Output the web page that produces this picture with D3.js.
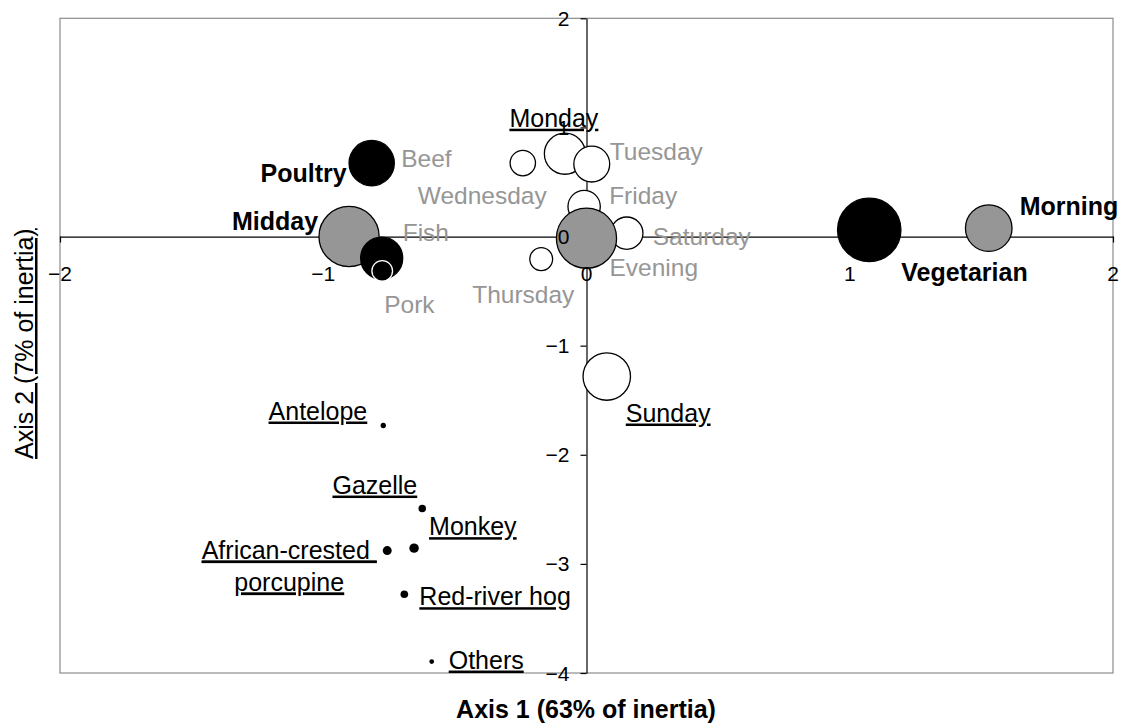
<!DOCTYPE html>
<html>
<head>
<meta charset="utf-8">
<script src="https://cdn.jsdelivr.net/npm/d3@7"></script>
<style>
  html, body { margin: 0; padding: 0; background: #fff; }
  svg { display: block; font-family: "Liberation Sans", Arial, sans-serif; }
</style>
</head>
<body>
<svg id="chart" width="1127" height="725"></svg>
<script>
// Correspondence analysis coordinates (axis 1, axis 2) and bubble weights.
const dayNames   = ["Monday", "Tuesday", "Wednesday", "Thursday", "Friday", "Saturday", "Sunday"];
const dayAxis1   = [-0.082, 0.020, -0.242, -0.172, -0.009, 0.153, 0.077];
const dayAxis2   = [0.759, 0.664, 0.673, -0.207, 0.275, 0.031, -1.283];
const dayWeight  = [42, 32, 16, 13, 26, 26, 56];

const mealNames  = ["Morning", "Midday", "Evening"];
const mealAxis1  = [1.528, -0.902, 0.000];
const mealAxis2  = [0.077, 0.000, -0.015];
const mealWeight = [54, 90, 90];

const meatNames  = ["Beef", "Poultry", "Fish", "Pork", "Vegetarian"];
const meatAxis1  = [-0.810, -0.816, -0.778, -0.776, 1.074];
const meatAxis2  = [0.670, 0.673, -0.198, -0.315, 0.061];
const meatWeight = [40, 51, 44, 10.6, 100];

const speciesNames  = ["Antelope", "Gazelle", "Monkey", "African-crested porcupine", "Red-river hog", "Others"];
const speciesAxis1  = [-0.772, -0.624, -0.655, -0.757, -0.692, -0.588];
const speciesAxis2  = [-1.732, -2.493, -2.856, -2.878, -3.278, -3.895];
const speciesWeight = [0.7, 1.4, 2.2, 2.0, 1.45, 0.55];

const xTicks = [-2, -1, 0, 1, 2];
const yTicks = [2, 1, 0, -1, -2, -3, -4];
const xTitle = "Axis 1 (63% of inertia)";
const yTitle = "Axis 2 (7% of inertia)";

// Build one record list, in drawing order (later groups sit on top).
function rows(group, names, a1, a2, w) {
  return names.map((n, i) => ({ group, name: n, x: a1[i], y: a2[i], w: w[i] }));
}
const points = [].concat(
  rows("day", dayNames, dayAxis1, dayAxis2, dayWeight),
  rows("meal", mealNames, mealAxis1, mealAxis2, mealWeight),
  rows("meat", meatNames, meatAxis1, meatAxis2, meatWeight),
  rows("species", speciesNames, speciesAxis1, speciesAxis2, speciesWeight)
);

// Presentation
const fills   = { day: "#ffffff", meal: "#969696", meat: "#000000", species: "#000000" };
const strokes = { day: "#000000", meal: "#000000", meat: "#000000", species: "#000000" };
const strokeOverride = { Pork: "#ffffff" };

// Label placement relative to each bubble centre (px) and text style.
const labelLayout = {
  Monday:     { dx: -11, dy: -27, anchor: "middle", style: "ul" },
  Tuesday:    { dx: 18, dy: -4, anchor: "start", style: "muted" },
  Wednesday:  { dx: -105, dy: 41, anchor: "start", style: "muted" },
  Thursday:   { dx: -69, dy: 44, anchor: "start", style: "muted" },
  Friday:     { dx: 25, dy: -3, anchor: "start", style: "muted" },
  Saturday:   { dx: 26, dy: 12, anchor: "start", style: "muted" },
  Sunday:     { dx: 19, dy: 45, anchor: "start", style: "ul" },
  Morning:    { dx: 31, dy: -13, anchor: "start", style: "strong" },
  Midday:     { dx: -31, dy: -7, anchor: "end", style: "strong" },
  Evening:    { dx: 23, dy: 38, anchor: "start", style: "muted" },
  Beef:       { dx: 28, dy: 4, anchor: "start", style: "muted" },
  Poultry:    { dx: -25, dy: 19, anchor: "end", style: "strong" },
  Fish:       { dx: 21, dy: -17, anchor: "start", style: "muted" },
  Pork:       { dx: 2, dy: 42, anchor: "start", style: "muted" },
  Vegetarian: { dx: 32, dy: 51, anchor: "start", style: "strong" },
  "Antelope":                  { dx: -16, dy: -6, anchor: "end", style: "ul" },
  "Gazelle":                   { dx: -5, dy: -15, anchor: "end", style: "ul" },
  "Monkey":                    { dx: 15, dy: -13, anchor: "start", style: "ul" },
  "African-crested porcupine": { dx: -98, dy: 8, anchor: "middle", style: "ul",
                                 lines: ["African-crested ", "porcupine"], lead: 32 },
  "Red-river hog":             { dx: 15, dy: 11, anchor: "start", style: "ul" },
  "Others":                    { dx: 17, dy: 7, anchor: "start", style: "ul" }
};
const textStyles = {
  strong: { fill: "#000", weight: "bold", size: 25, deco: "none" },
  muted:  { fill: "#969696", weight: "normal", size: 24.5, deco: "none" },
  ul:     { fill: "#000", weight: "normal", size: 25, deco: "underline" }
};

const svg = d3.select("#chart");
const plotLeft = 60, plotRight = 1113, plotTop = 18.3, plotBottom = 673;

const x = d3.scaleLinear().domain([-2, 2]).range([plotLeft, plotRight]);
const y = d3.scaleLinear().domain([-4, 2]).range([plotBottom, plotTop]);
const r = d3.scaleSqrt().domain([0, 100]).range([0, 31.7]);

// Plot frame
svg.append("rect")
  .attr("x", plotLeft).attr("y", plotTop)
  .attr("width", plotRight - plotLeft).attr("height", plotBottom - plotTop)
  .attr("fill", "none").attr("stroke", "#8c8c8c").attr("stroke-width", 1.2);

// Axis lines through the origin
const xAxis = d3.axisBottom(x).tickValues(xTicks).tickSize(6).tickSizeOuter(0);
const yAxis = d3.axisLeft(y).tickValues(yTicks).tickSize(6).tickSizeOuter(0);

const gx = svg.append("g").attr("transform", `translate(0,${y(0)})`).call(xAxis);
const gy = svg.append("g").attr("transform", `translate(${x(0)},0)`).call(yAxis);
[gx, gy].forEach(g => {
  g.select(".domain").attr("stroke", "#000").attr("stroke-width", 1.2);
  g.selectAll(".tick line").attr("stroke", "#000").attr("stroke-width", 1.2);
  g.selectAll(".tick text").remove();
});

// Bubbles
svg.append("g").selectAll("circle")
  .data(points)
  .join("circle")
  .attr("cx", d => x(d.x))
  .attr("cy", d => y(d.y))
  .attr("r", d => r(d.w))
  .attr("fill", d => fills[d.group])
  .attr("stroke", d => strokeOverride[d.name] || strokes[d.group])
  .attr("stroke-width", d => d.group === "species" ? 0 : 1.3);

// Tick labels, drawn above the bubbles
const tickFont = 21;
svg.append("g").selectAll("text")
  .data(xTicks)
  .join("text")
  .attr("x", d => x(d))
  .attr("y", y(0) + 44)
  .attr("text-anchor", "middle")
  .attr("font-size", tickFont)
  .attr("fill", "#000")
  .text(d3.format("d"));
svg.append("g").selectAll("text")
  .data(yTicks)
  .join("text")
  .attr("x", x(0) - 17)
  .attr("y", d => y(d) + 7.5)
  .attr("text-anchor", "end")
  .attr("font-size", tickFont)
  .attr("fill", "#000")
  .text(d3.format("d"));

// Point labels
svg.append("g").selectAll("text")
  .data(points.filter(d => labelLayout[d.name]))
  .join("text")
  .each(function (d) {
    const L = labelLayout[d.name];
    const s = textStyles[L.style];
    const t = d3.select(this)
      .attr("x", x(d.x) + L.dx)
      .attr("y", y(d.y) + L.dy)
      .attr("text-anchor", L.anchor)
      .attr("font-size", s.size)
      .attr("font-weight", s.weight)
      .attr("fill", s.fill)
      .style("text-decoration", s.deco)
      .style("white-space", "pre");
    if (L.lines) {
      L.lines.forEach((line, i) => {
        t.append("tspan")
          .attr("x", x(d.x) + L.dx)
          .attr("dy", i === 0 ? 0 : L.lead)
          .style("text-decoration", s.deco)
          .text(line);
      });
    } else {
      t.text(d.name);
    }
  });

// Axis titles
svg.append("text")
  .attr("x", 586)
  .attr("y", 718)
  .attr("text-anchor", "middle")
  .attr("font-size", 25)
  .attr("font-weight", "bold")
  .attr("fill", "#000")
  .text(xTitle);

svg.append("text")
  .attr("transform", `translate(33,${(plotTop + plotBottom) / 2 - 2}) rotate(-90)`)
  .attr("text-anchor", "middle")
  .attr("font-size", 25)
  .attr("fill", "#000")
  .style("text-decoration", "underline")
  .text(yTitle);
</script>
</body>
</html>
